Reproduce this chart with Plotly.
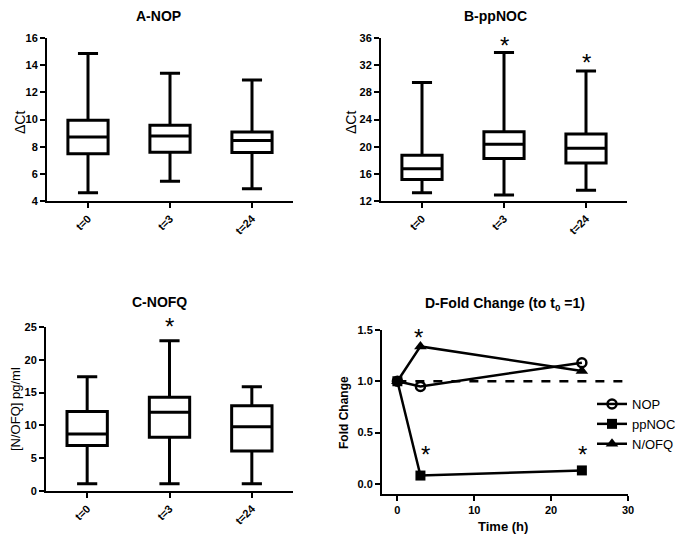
import plotly.graph_objects as go

W, H = 683, 540
OX, OY = 8, 8  # page offset of the figure (default body margin)

# ---------------- data ----------------
categories = ["t=0", "t=3", "t=24"]

# Panel A - NOP (ΔCt)
nop_min = [4.6, 5.45, 4.9]
nop_q1 = [7.47, 7.58, 7.57]
nop_med = [8.72, 8.78, 8.45]
nop_q3 = [9.95, 9.57, 9.08]
nop_max = [14.85, 13.4, 12.9]

# Panel B - ppNOC (ΔCt)
ppnoc_min = [13.2, 12.9, 13.6]
ppnoc_q1 = [15.15, 18.25, 17.6]
ppnoc_med = [16.75, 20.35, 19.75]
ppnoc_q3 = [18.75, 22.2, 21.85]
ppnoc_max = [29.45, 33.85, 31.15]

# Panel C - N/OFQ (pg/ml)
nofq_min = [1.1, 1.1, 1.1]
nofq_q1 = [6.95, 8.2, 6.1]
nofq_med = [8.7, 12.0, 9.8]
nofq_q3 = [12.1, 14.3, 13.0]
nofq_max = [17.4, 22.9, 15.9]

# Panel D - fold change
time_h = [0, 3, 24]
fc_nop = [1.0, 0.95, 1.18]
fc_ppnoc = [1.0, 0.08, 0.13]
fc_nofq = [1.0, 1.34, 1.10]
baseline = 1.0
baseline_x = [0, 30]

# significance stars (anchor positions)
stars_b_x = ["t=3", "t=24"]
stars_b_y = [33.2, 30.7]
stars_c_x = ["t=3"]
stars_c_y = [23.2]
stars_d_x = [2.8, 3.6, 24.1]
stars_d_y = [1.307, 0.166, 0.166]

# ---------------- layout helpers ----------------
def xd(a, b):
    return [(a - OX) / W, (b - OX) / W]

def yd(top, bottom):
    return [1 - (bottom - OY) / H, 1 - (top - OY) / H]

def px(x):
    return (x - OX) / W

def py(y):
    return 1 - (y - OY) / H

FONT = "Liberation Sans, Arial, sans-serif"
tickfont = dict(family=FONT, size=11, color="black", weight="bold")

fig = go.Figure()

box_style = dict(line=dict(color="black", width=3), fillcolor="white",
                 whiskerwidth=0.5, showlegend=False, boxpoints=False,
                 hoverinfo="skip")

fig.add_trace(go.Box(x=categories, q1=nop_q1, median=nop_med, q3=nop_q3,
                     lowerfence=nop_min, upperfence=nop_max,
                     xaxis="x", yaxis="y", **box_style))
fig.add_trace(go.Box(x=categories, q1=ppnoc_q1, median=ppnoc_med, q3=ppnoc_q3,
                     lowerfence=ppnoc_min, upperfence=ppnoc_max,
                     xaxis="x2", yaxis="y2", **box_style))
fig.add_trace(go.Box(x=categories, q1=nofq_q1, median=nofq_med, q3=nofq_q3,
                     lowerfence=nofq_min, upperfence=nofq_max,
                     xaxis="x3", yaxis="y3", **box_style))

# Panel D
fig.add_trace(go.Scatter(x=baseline_x, y=[baseline, baseline], mode="lines",
                         line=dict(color="black", width=2.5, dash="dash"),
                         showlegend=False, xaxis="x4", yaxis="y4", hoverinfo="skip"))
fig.add_trace(go.Scatter(x=time_h, y=fc_nop, mode="lines+markers", name="NOP",
                         line=dict(color="black", width=2.5),
                         marker=dict(symbol="circle-open", size=9, color="black",
                                     line=dict(width=2.5, color="black")),
                         xaxis="x4", yaxis="y4"))
fig.add_trace(go.Scatter(x=time_h, y=fc_ppnoc, mode="lines+markers", name="ppNOC",
                         line=dict(color="black", width=2.5),
                         marker=dict(symbol="square", size=10, color="black"),
                         xaxis="x4", yaxis="y4"))
fig.add_trace(go.Scatter(x=time_h, y=fc_nofq, mode="lines+markers", name="N/OFQ",
                         line=dict(color="black", width=2.5),
                         marker=dict(symbol="triangle-up", size=11, color="black"),
                         xaxis="x4", yaxis="y4"))

axis_common = dict(showline=True, linecolor="black", linewidth=2,
                   ticks="outside", tickcolor="black", tickwidth=2, ticklen=5,
                   showgrid=False, zeroline=False, tickfont=tickfont,
                   mirror=False, fixedrange=True, automargin=False)

cat_x = dict(axis_common, type="category", range=[-0.5, 2.5], tickangle=-45)

layout = dict(
    width=W, height=H, margin=dict(l=0, r=0, t=0, b=0, autoexpand=False),
    paper_bgcolor="white", plot_bgcolor="white",
    font=dict(family=FONT, color="black"),
    xaxis=dict(cat_x, domain=xd(47, 293), anchor="y"),
    yaxis=dict(axis_common, domain=yd(38, 201), range=[4, 16], dtick=2, anchor="x"),
    xaxis2=dict(cat_x, domain=xd(381, 627), anchor="y2"),
    yaxis2=dict(axis_common, domain=yd(38, 201), range=[12, 36], dtick=4, anchor="x2"),
    xaxis3=dict(cat_x, domain=xd(46, 293), anchor="y3"),
    yaxis3=dict(axis_common, domain=yd(327, 491), range=[0, 25], dtick=5, anchor="x3"),
    xaxis4=dict(axis_common, domain=xd(382, 628), range=[-2, 30], dtick=10, anchor="y4"),
    yaxis4=dict(axis_common, domain=yd(330, 494), range=[-0.1, 1.5],
                tickvals=[0, 0.5, 1.0, 1.5], ticktext=["0.0", "0.5", "1.0", "1.5"],
                anchor="x4"),
    legend=dict(x=px(592), y=py(389), xanchor="left", yanchor="top",
                font=dict(family=FONT, size=13, color="black"),
                bgcolor="rgba(0,0,0,0)", tracegroupgap=0),
    showlegend=True,
)
fig.update_layout(**layout)

ann = []
def title(text, xc, yc, size=14, bold=True, angle=0):
    ann.append(dict(text=text, x=px(xc), y=py(yc), xref="paper", yref="paper",
                    showarrow=False, textangle=angle, xanchor="center", yanchor="middle",
                    font=dict(family=FONT, size=size, color="black",
                              weight="bold" if bold else "normal")))

title("A-NOP", 158, 16)
title("B-ppNOC", 495, 16)
title("C-NOFQ", 159, 302)
title("D-Fold Change (to t<sub>0</sub> =1)", 505, 304)
title("ΔCt", 20, 123, size=14, bold=False, angle=-90)
title("ΔCt", 351, 123, size=14, bold=False, angle=-90)
title("[N/OFQ] pg/ml", 15, 409, size=13, bold=False, angle=-90)
title("Fold Change", 344, 413, size=12, bold=True, angle=-90)
title("Time (h)", 503, 526, size=13, bold=True)

def stars(xs, ys, xr, yr):
    for xv, yv in zip(xs, ys):
        ann.append(dict(text="*", x=xv, y=yv, xref=xr, yref=yr, showarrow=False,
                        xanchor="center", yanchor="middle", yshift=12,
                        font=dict(family=FONT, size=24, color="black")))

stars(stars_b_x, stars_b_y, "x2", "y2")
stars(stars_c_x, stars_c_y, "x3", "y3")
stars(stars_d_x, stars_d_y, "x4", "y4")

fig.update_layout(annotations=ann)
fig.write_html("out.html")
